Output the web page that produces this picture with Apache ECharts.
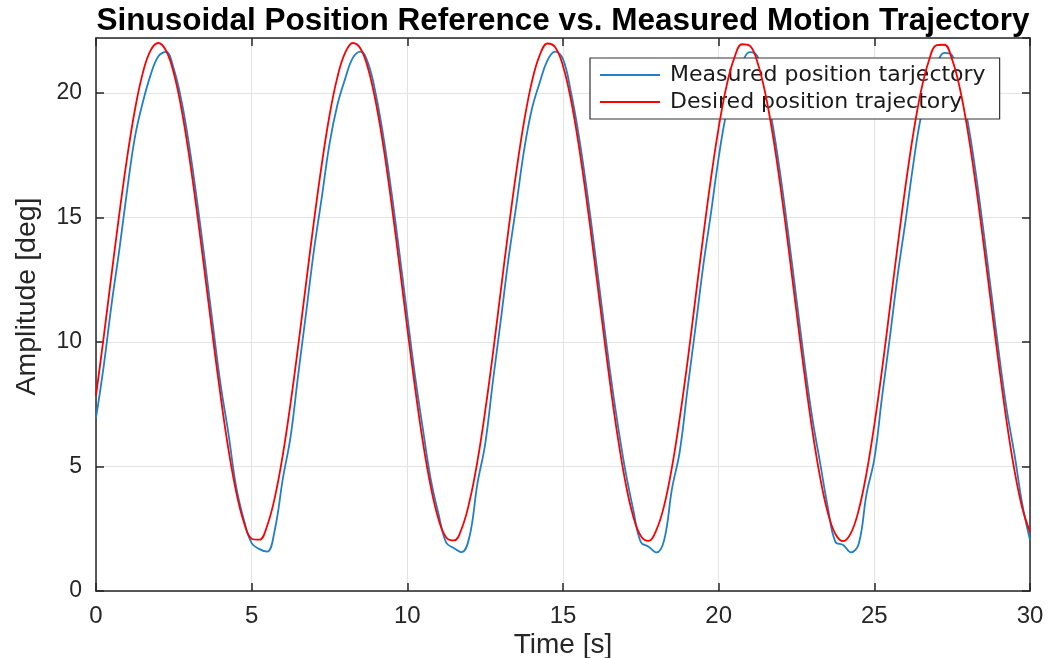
<!DOCTYPE html>
<html>
<head>
<meta charset="utf-8">
<script src="https://cdn.jsdelivr.net/npm/echarts@6/dist/echarts.min.js"></script>
<style>
html,body{margin:0;padding:0;background:#fff;}
#chart{width:1054px;height:658px;}
</style>
</head>
<body>
<div id="chart"></div>
<script>
const titleText = 'Sinusoidal Position Reference vs. Measured Motion Trajectory';
const xName = 'Time [s]';
const yName = 'Amplitude [deg]';
const seriesNames = ['Measured position tarjectory', 'Desired position trajectory'];

const time = [
  0, 0.25, 0.5, 0.75, 1, 1.25, 1.5, 1.75, 2, 2.25, 2.5, 2.75, 3, 3.25, 3.5, 3.75, 4, 4.25, 4.5, 4.75,
  5, 5.25, 5.5, 5.75, 6, 6.25, 6.5, 6.75, 7, 7.25, 7.5, 7.75, 8, 8.25, 8.5, 8.75, 9, 9.25, 9.5, 9.75,
  10, 10.25, 10.5, 10.75, 11, 11.25, 11.5, 11.75, 12, 12.25, 12.5, 12.75, 13, 13.25, 13.5, 13.75, 14, 14.25, 14.5, 14.75,
  15, 15.25, 15.5, 15.75, 16, 16.25, 16.5, 16.75, 17, 17.25, 17.5, 17.75, 18, 18.25, 18.5, 18.75, 19, 19.25, 19.5, 19.75,
  20, 20.25, 20.5, 20.75, 21, 21.25, 21.5, 21.75, 22, 22.25, 22.5, 22.75, 23, 23.25, 23.5, 23.75, 24, 24.25, 24.5, 24.75,
  25, 25.25, 25.5, 25.75, 26, 26.25, 26.5, 26.75, 27, 27.25, 27.5, 27.75, 28, 28.25, 28.5, 28.75, 29, 29.25, 29.5, 29.75,
  30
];

const measured = [
  6.95, 9.05, 11.51, 13.70, 16.09, 18.22, 19.6, 20.7, 21.46, 21.64, 20.95, 19.65, 17.82, 15.62, 13.21, 10.71, 8.30, 6.35, 4.2, 2.85,
  1.92, 1.68, 1.58, 2.5, 4.5, 6.2, 8.74, 11.18, 13.67, 15.78, 17.95, 19.5, 20.55, 21.4, 21.65, 21.15, 19.86, 18.09, 15.93, 13.53,
  11.04, 8.61, 6.5, 4.5, 3.1, 1.94, 1.72, 1.56, 2.2, 4.3, 5.9, 8.43, 10.85, 13.34, 15.48, 17.70, 19.35, 20.4, 21.3, 21.65,
  21.35, 20.06, 18.34, 16.23, 13.86, 11.37, 8.92, 6.75, 4.85, 3.3, 1.96, 1.78, 1.55, 2.05, 4.1, 5.6, 8.11, 10.52, 13.01, 15.15,
  17.40, 19.2, 20.25, 21.2, 21.63, 21.45, 20.25, 18.60, 16.54, 14.19, 11.71, 9.24, 7.0, 5.2, 3.4, 1.97, 1.85, 1.55, 1.9, 3.9,
  5.3, 7.81, 10.19, 12.68, 14.84, 17.12, 19.05, 20.1, 21.1, 21.6, 21.5, 20.35, 18.84, 16.85, 14.51, 12.04, 9.56, 7.3, 5.5, 3.5,
  2.05
];

const desired = [
  7.84, 10.22, 12.71, 15.15, 17.40, 19.32, 20.78, 21.69, 22.00, 21.69, 20.78, 19.32, 17.40, 15.15, 12.71, 10.22, 7.84, 5.72, 3.99, 2.76,
  2.10, 2.06, 2.63, 3.79, 5.46, 7.54, 9.89, 12.38, 14.84, 17.12, 19.09, 20.61, 21.60, 22.00, 21.77, 20.93, 19.54, 17.70, 15.47, 13.04,
  10.54, 8.14, 5.98, 4.20, 2.89, 2.15, 2.03, 2.52, 3.61, 5.20, 7.22, 9.54, 12.04, 14.52, 16.83, 18.85, 20.44, 21.50, 21.98, 21.83,
  21.08, 19.75, 17.94, 15.78, 13.37, 10.88, 8.45, 6.25, 4.40, 3.02, 2.21, 2.01, 2.45, 3.43, 4.97, 6.95, 9.21, 11.71, 14.20, 16.54,
  18.60, 20.26, 21.39, 21.95, 21.89, 21.21, 19.96, 18.22, 16.09, 13.70, 11.20, 8.77, 6.52, 4.62, 3.17, 2.29, 2.00, 2.33, 3.26, 4.74,
  6.67, 8.91, 11.38, 13.87, 16.24, 18.35, 20.07, 21.28, 21.91, 21.93, 21.33, 20.16, 18.47, 16.38, 14.02, 11.53, 9.08, 6.80, 4.85, 3.34,
  2.37
];

const xMin = 0, xMax = 30, xStep = 5;
const yMin = 0, yMax = 22.2, yStep = 5;

const textColor = '#262626';
const axisColor = '#262626';
const gridColor = '#e3e3e3';
const blue = '#1f7fc8';
const red = '#ff0000';

const measuredData = time.map((t, i) => [t, measured[i]]);
const desiredData = time.map((t, i) => [t, desired[i]]);

const chart = echarts.init(document.getElementById('chart'), null, {renderer: 'canvas'});

const baseX = {
  type: 'value', min: xMin, max: xMax, interval: xStep,
  axisLine: {show: true, onZero: false, lineStyle: {color: axisColor, width: 1.5}},
  axisTick: {show: true, inside: true, length: 8, lineStyle: {color: axisColor, width: 1.5}}
};
const baseY = {
  type: 'value', min: yMin, max: yMax, interval: yStep,
  axisLine: {show: true, onZero: false, lineStyle: {color: axisColor, width: 1.5}},
  axisTick: {show: true, inside: true, length: 8, lineStyle: {color: axisColor, width: 1.5}}
};

chart.setOption({
  animation: false,
  backgroundColor: '#ffffff',
  graphic: [{
    type: 'text', x: 563, y: 21, silent: true,
    style: {
      text: titleText, x: 0, y: 0, textAlign: 'center', textVerticalAlign: 'middle',
      font: 'bold 31.5px "Liberation Sans", Arial, sans-serif',
      fill: '#000'
    }
  }],
  grid: {left: 96, right: 24, top: 38, bottom: 67, containLabel: false, outerBoundsMode: 'none'},
  legend: {
    orient: 'vertical', left: 590, top: 58,
    padding: [5, 14, 5, 10], itemGap: 3, itemWidth: 60, itemHeight: 2,
    backgroundColor: '#ffffff', borderColor: '#333333', borderWidth: 1.2,
    icon: 'rect',
    textStyle: {fontFamily: '"DejaVu Sans", sans-serif', fontSize: 22, color: '#1a1a1a', padding: [0, 0, 0, 5], lineHeight: 24},
    data: seriesNames
  },
  xAxis: [
    Object.assign({}, baseX, {
      position: 'bottom',
      name: xName, nameLocation: 'middle', nameGap: 40, nameMoveOverlap: false,
      nameTextStyle: {fontFamily: '"Liberation Sans", Arial, sans-serif', fontSize: 28, color: textColor},
      axisLabel: {margin: 13, fontFamily: '"Liberation Sans", Arial, sans-serif', fontSize: 24, color: textColor},
      splitLine: {show: true, lineStyle: {color: gridColor, width: 1}}
    }),
    Object.assign({}, baseX, {
      position: 'top',
      axisLabel: {show: false},
      splitLine: {show: false}
    })
  ],
  yAxis: [
    Object.assign({}, baseY, {
      position: 'left',
      name: yName, nameLocation: 'middle', nameGap: 54, nameMoveOverlap: false,
      nameTextStyle: {fontFamily: '"Liberation Sans", Arial, sans-serif', fontSize: 28.5, color: textColor, padding: [0, 0, 0, 36]},
      axisLabel: {margin: 14, showMaxLabel: false, fontFamily: '"Liberation Sans", Arial, sans-serif', fontSize: 23, color: textColor},
      splitLine: {show: true, lineStyle: {color: gridColor, width: 1}}
    }),
    Object.assign({}, baseY, {
      position: 'right',
      axisLabel: {show: false},
      splitLine: {show: false}
    })
  ],
  series: [
    {
      name: seriesNames[0], type: 'line', xAxisIndex: 0, yAxisIndex: 0,
      data: measuredData, showSymbol: false, symbol: 'none', smooth: 0.4,
      lineStyle: {color: blue, width: 1.8}, itemStyle: {color: blue}, z: 3
    },
    {
      name: seriesNames[1], type: 'line', xAxisIndex: 0, yAxisIndex: 0,
      data: desiredData, showSymbol: false, symbol: 'none', smooth: 0.4,
      lineStyle: {color: red, width: 1.8}, itemStyle: {color: red}, z: 4
    }
  ]
});
</script>
</body>
</html>
